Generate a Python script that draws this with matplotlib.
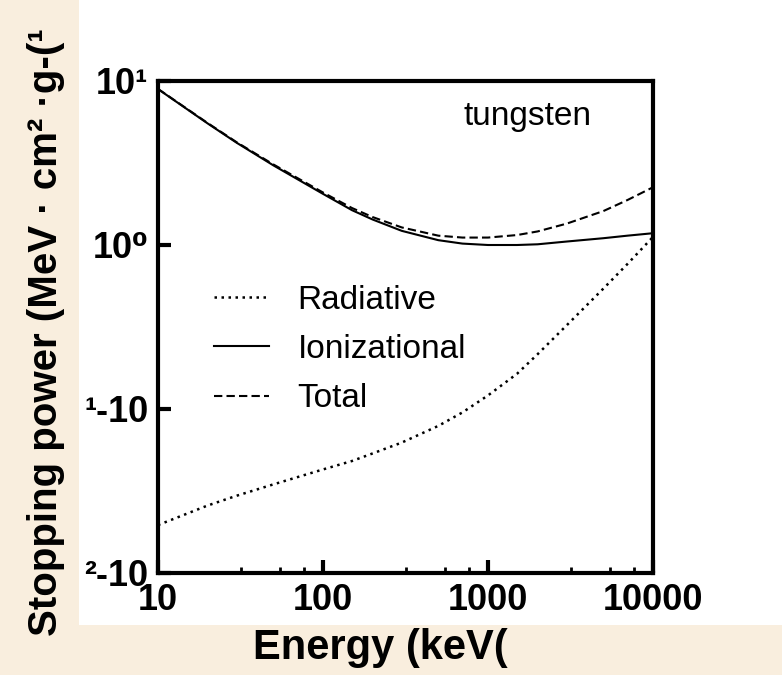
import numpy as np
import matplotlib
matplotlib.use('Agg')
import matplotlib.pyplot as plt
from matplotlib.patches import Rectangle
from matplotlib.ticker import FixedLocator, NullLocator, NullFormatter

plt.rcParams['font.family'] = ['Liberation Sans', 'DejaVu Sans']

# values (MeV cm2/g vs keV)
energy = [10, 20, 30, 50, 100, 150, 200, 300, 500, 700, 1000, 1500, 2000, 3000, 5000, 7000, 10000]
ionizational = [8.93, 5.51, 4.20, 3.06, 2.05, 1.63, 1.43, 1.22, 1.07, 1.02, 1.00, 1.00, 1.01, 1.05, 1.10, 1.14, 1.18]
radiative = [0.0196, 0.0258, 0.0296, 0.0347, 0.0428, 0.0482, 0.0536, 0.0624, 0.0789, 0.0953, 0.121, 0.164,
             0.216, 0.324, 0.542, 0.766, 1.12]
total = [8.95, 5.54, 4.23, 3.10, 2.09, 1.68, 1.48, 1.28, 1.14, 1.11, 1.11, 1.15, 1.21, 1.35, 1.61, 1.88, 2.25]

x_ticks = [10, 100, 1000, 10000]
x_ticklabels = ['10', '100', '1000', '10000']
y_ticks = [10, 1, 0.1, 0.01]
y_ticklabels = ['10¹', '10⁰', '¹-10', '²-10']
minor_steps = [3.2, 5.5, 7.7]

beige = '#f9eede'
fig = plt.figure(figsize=(7.82, 6.75), dpi=100, facecolor=beige)
# white panel behind the plot
fig.patches.append(Rectangle((79 / 782, 50 / 675), 1, 1, transform=fig.transFigure,
                             facecolor='white', edgecolor='none', zorder=-5))

ax = fig.add_axes([158 / 782, 102 / 675, 495 / 782, 492 / 675])
ax.set_facecolor('white')

ax.plot(energy, radiative, color='black', lw=1.8, ls=(0, (1, 1.8)), label='Radiative')
ax.plot(energy, ionizational, color='black', lw=1.5, ls='-', label='Ionizational')
ax.plot(energy, total, color='black', lw=1.5, ls=(0, (4, 2)), label='Total')

ax.set_xscale('log')
ax.set_yscale('log')
ax.set_xlim(10, 10000)
ax.set_ylim(0.01, 10)

ax.set_xticks(x_ticks)
ax.set_xticklabels(x_ticklabels)
ax.set_yticks(y_ticks)
ax.set_yticklabels(y_ticklabels)
minors = [d * s for d in x_ticks[:-1] for s in minor_steps]
ax.xaxis.set_minor_locator(FixedLocator(minors))
ax.xaxis.set_minor_formatter(NullFormatter())
ax.yaxis.set_minor_locator(NullLocator())

for sp in ax.spines.values():
    sp.set_linewidth(3)
ax.tick_params(which='major', direction='in', length=9.5, width=3, labelsize=26, pad=7)
ax.tick_params(which='minor', direction='in', length=4, width=2)
for lab in ax.get_xticklabels() + ax.get_yticklabels():
    lab.set_fontweight('bold')

fig.text(380 / 782, 16 / 675, 'Energy (keV(', fontsize=30, fontweight='bold',
         ha='center', va='baseline')
ax.set_ylabel('Stopping power (MeV · cm² ·g-(¹', fontsize=29, fontweight='bold')
ax.yaxis.set_label_coords(-0.187, 0.49)

ax.text(0.747, 0.911, 'tungsten', transform=ax.transAxes, fontsize=24,
        ha='center', va='baseline')

ax.legend(loc='upper left', bbox_to_anchor=(0.08, 0.62), frameon=False, fontsize=24,
          handlelength=1.65, handletextpad=0.85, labelspacing=0.55, borderpad=0)

fig.savefig('out.png', dpi=100, facecolor=beige)
